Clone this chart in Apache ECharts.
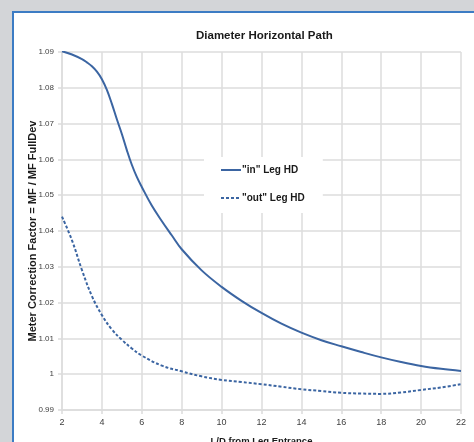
<!DOCTYPE html>
<html>
<head>
<meta charset="utf-8">
<script src="https://cdn.jsdelivr.net/npm/echarts@6/dist/echarts.min.js"></script>
<style>
	html, body { margin: 0; padding: 0; background: #d3d5d8; }
	#chart { width: 474px; height: 442px; }
</style>
</head>
<body>
<div id="chart"></div>
<script>
	// L/D positions
	var ldIn = [2, 2.5, 3, 3.25, 3.5, 3.75, 4, 4.25, 4.5, 4.75, 5, 5.25, 5.5, 5.75, 6, 6.5, 7, 7.5, 8, 9, 10, 11, 12, 13, 14, 15, 16, 17, 18, 19, 20, 21, 22];
	var mfIn = [1.0902, 1.0893, 1.0880, 1.0871, 1.0860, 1.0845, 1.0824, 1.0794, 1.0755, 1.0712, 1.0671, 1.0626, 1.0585, 1.0551, 1.0523, 1.0471, 1.0428, 1.0388, 1.0349, 1.0290, 1.0244, 1.0205, 1.0171, 1.0141, 1.0116, 1.0095, 1.0078, 1.0062, 1.0047, 1.0034, 1.0023, 1.0015, 1.0009];
	var ldOut = [2, 2.5, 3, 3.5, 4, 4.5, 5, 5.5, 6, 7, 8, 9, 10, 11, 12, 13, 14, 15, 16, 17, 18, 19, 20, 21, 22];
	var mfOut = [1.0440, 1.0374, 1.0291, 1.0218, 1.0165, 1.0125, 1.0096, 1.0072, 1.0052, 1.0024, 1.0008, 0.9994, 0.9984, 0.9978, 0.9972, 0.9965, 0.9958, 0.9953, 0.9948, 0.9946, 0.9945, 0.9949, 0.9956, 0.9963, 0.9972];
	var seriesNames = ['"in" Leg HD', '"out" Leg HD'];

	function pairs(xs, ys) {
		var out = [];
		xs.forEach(function (x, i) { out.push([x, ys[i]]); });
		return out;
	}

	var lineColor = '#3b65a2';
	var gridColor = '#dcdcdc';
	var labelColor = '#404040';
	var font = "'Liberation Sans', 'DejaVu Sans', sans-serif";

	var myChart = echarts.init(document.getElementById('chart'));
	var option = {
		animation: false,
		backgroundColor: '#ffffff',
		graphic: [
			{ type: 'rect', shape: { x: 0, y: 0, width: 474, height: 11 }, style: { fill: '#d3d5d8' }, z: -1 },
			{ type: 'rect', shape: { x: 0, y: 0, width: 12, height: 442 }, style: { fill: '#d3d5d8' }, z: -1 },
			{ type: 'rect', shape: { x: 12, y: 11, width: 462, height: 2 }, style: { fill: '#3c7cc4' }, z: -1 },
			{ type: 'rect', shape: { x: 12, y: 11, width: 2, height: 431 }, style: { fill: '#3c7cc4' }, z: -1 }
		],
		title: {
			text: 'Diameter Horizontal Path',
			left: 191,
			top: 25,
			textStyle: { fontFamily: font, fontSize: 11.5, fontWeight: 'bold', color: '#1a1a1a' }
		},
		legend: {
			orient: 'vertical',
			left: 204,
			top: 157,
			width: 114,
			padding: [8, 18, 10, 16],
			backgroundColor: '#ffffff',
			itemWidth: 20,
			itemHeight: 10,
			itemGap: 18,
			itemStyle: { opacity: 0 },
			data: seriesNames,
			textStyle: { fontFamily: font, fontSize: 10, fontWeight: 'bold', color: '#1a1a1a', padding: [0, 0, 0, -4] }
		},
		grid: { left: 62, right: 13, top: 52, bottom: 32, outerBoundsMode: 'none', containLabel: false },
		xAxis: {
			type: 'value',
			min: 2,
			max: 22,
			interval: 2,
			name: 'L/D from Leg Entrance',
			nameLocation: 'middle',
			nameGap: 26,
			nameMoveOverlap: false,
			nameTextStyle: { fontFamily: font, fontSize: 9.5, fontWeight: 'bold', color: '#1a1a1a' },
			axisLine: { lineStyle: { color: gridColor, width: 1.5 } },
			axisTick: { show: true, length: 4, lineStyle: { color: gridColor, width: 1.5 } },
			axisLabel: { fontFamily: font, fontSize: 9, color: labelColor, margin: 8 },
			splitLine: { show: true, lineStyle: { color: gridColor, width: 1.5 } }
		},
		yAxis: {
			type: 'value',
			min: 0.99,
			max: 1.09,
			interval: 0.01,
			name: 'Meter Correction Factor = MF / MF FullDev',
			nameLocation: 'middle',
			nameGap: 24,
			nameMoveOverlap: false,
			nameTextStyle: { fontFamily: font, fontSize: 11, fontWeight: 'bold', color: '#1a1a1a' },
			axisLine: { show: true, lineStyle: { color: gridColor, width: 1.5 } },
			axisTick: { show: true, length: 4, lineStyle: { color: gridColor, width: 1.5 } },
			axisLabel: {
				fontFamily: font, fontSize: 8, color: labelColor, margin: 8,
				formatter: function (v) { return String(+v.toFixed(2)); }
			},
			splitLine: { show: true, lineStyle: { color: gridColor, width: 1.5 } }
		},
		series: [{
			name: seriesNames[0],
			type: 'line',
			data: pairs(ldIn, mfIn),
			smooth: 0.4,
			symbol: 'none',
			itemStyle: { color: lineColor },
			lineStyle: { color: lineColor, width: 2 }
		}, {
			name: seriesNames[1],
			type: 'line',
			data: pairs(ldOut, mfOut),
			smooth: 0.4,
			symbol: 'none',
			itemStyle: { color: lineColor },
			lineStyle: { color: lineColor, width: 2, type: [3, 2] }
		}]
	};
	myChart.setOption(option);
</script>
</body>
</html>
